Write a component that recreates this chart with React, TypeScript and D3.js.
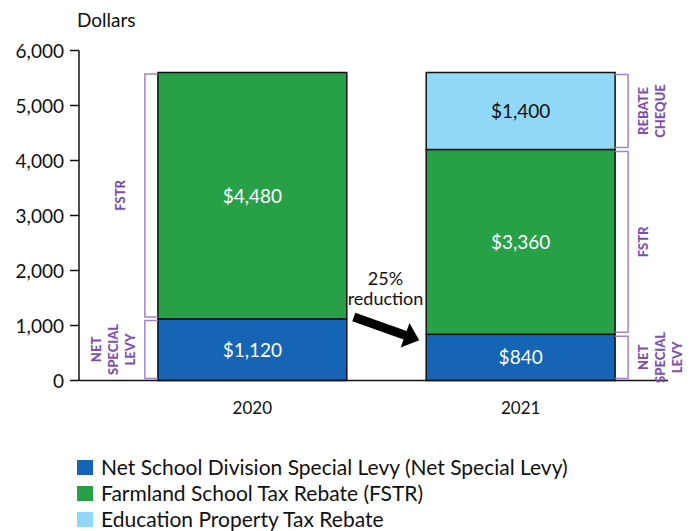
import React from "react";
import * as d3 from "d3";

const years = ["2020", "2021"];
const seriesKeys = ["levy", "fstr", "rebate"];
const seriesNames = [
  "Net School Division Special Levy (Net Special Levy)",
  "Farmland School Tax Rebate (FSTR)",
  "Education Property Tax Rebate",
];
const seriesColors = ["#1565b4", "#27a047", "#8fd8f7"];
const valueTextColors = ["#ffffff", "#ffffff", "#111111"];
const levyValues = [1120, 840];
const fstrValues = [4480, 3360];
const rebateValues = [0, 1400];
const yTicks = [0, 1000, 2000, 3000, 4000, 5000, 6000];
const leftBrackets = [
  { key: "levy", lines: ["NET", "SPECIAL", "LEVY"] },
  { key: "fstr", lines: ["FSTR"] },
];
const rightBrackets = [
  { key: "levy", lines: ["NET", "SPECIAL", "LEVY"] },
  { key: "fstr", lines: ["FSTR"] },
  { key: "rebate", lines: ["REBATE", "CHEQUE"] },
];
const annotationLines = ["25%", "reduction"];

const FONT = "Lato, 'Noto Sans', sans-serif";
const PURPLE_TEXT = "#7d4fb3";
const PURPLE_LINE = "#9f84cc";

export default function App() {
  const width = 692;
  const height = 531;
  const axisX = 79;
  const axisEnd = 668;
  const y = d3.scaleLinear().domain([0, 6000]).range([380.5, 50.5]);
  const x = d3
    .scaleBand<string>()
    .domain(years)
    .range([79, 694])
    .paddingInner(0.296)
    .paddingOuter(0.294);

  const rows = years.map((yr, i) => ({
    year: yr,
    levy: levyValues[i],
    fstr: fstrValues[i],
    rebate: rebateValues[i],
  }));
  const stacked = d3.stack<any>().keys(seriesKeys)(rows);

  const seg = (key: string, i: number) => {
    const s = stacked[seriesKeys.indexOf(key)][i];
    return { y0: y(s[0]), y1: y(s[1]), v: s[1] - s[0] };
  };

  const bw = x.bandwidth();
  const x2020 = x("2020")!;
  const x2021 = x("2021")!;

  // arrow geometry derived from bars
  const aStart: [number, number] = [x2020 + bw + 7, seg("levy", 0).y1 - 2];
  const aTip: [number, number] = [x2021 - 7, seg("levy", 1).y1 + 6];
  const dx = aTip[0] - aStart[0];
  const dy = aTip[1] - aStart[1];
  const len = Math.hypot(dx, dy);
  const ux = dx / len, uy = dy / len;
  const nx = -uy, ny = ux;
  const sw = 4.5, hw = 13, hl = 15;
  const hb: [number, number] = [aTip[0] - ux * hl, aTip[1] - uy * hl];
  const pts: [number, number][] = [
    [aStart[0] + nx * sw, aStart[1] + ny * sw],
    [hb[0] + nx * sw, hb[1] + ny * sw],
    [hb[0] + nx * hw, hb[1] + ny * hw],
    aTip,
    [hb[0] - nx * hw, hb[1] - ny * hw],
    [hb[0] - nx * sw, hb[1] - ny * sw],
    [aStart[0] - nx * sw, aStart[1] - ny * sw],
  ];

  const midX = (x2020 + bw + x2021) / 2;

  return (
    <svg width={width} height={height} style={{ position: "absolute", left: 0, top: 0, background: "#fff" }}>
      {/* bars */}
      {years.map((yr, i) =>
        seriesKeys.map((k, si) => {
          const s = seg(k, i);
          if (s.v <= 0) return null;
          return (
            <g key={yr + k}>
              <rect
                x={x(yr)}
                y={s.y1}
                width={bw}
                height={s.y0 - s.y1}
                fill={seriesColors[si]}
                stroke="#111"
                strokeWidth={1.5}
              />
              <text
                x={x(yr)! + bw / 2}
                y={(s.y0 + s.y1) / 2 + 7}
                textAnchor="middle"
                fontFamily={FONT}
                fontSize={19}
                fill={valueTextColors[si]}
              >
                {"$" + d3.format(",")(s.v)}
              </text>
            </g>
          );
        })
      )}

      {/* axes */}
      <line x1={axisX} x2={axisX} y1={y(6000)} y2={y(0)} stroke="#111" strokeWidth={1.5} />
      <line x1={axisX} x2={axisEnd} y1={y(0)} y2={y(0)} stroke="#111" strokeWidth={1.5} />
      {yTicks.map((t) => (
        <g key={t}>
          <line x1={axisX - 9} x2={axisX} y1={y(t)} y2={y(t)} stroke="#111" strokeWidth={1.5} />
          <text x={64} y={y(t) + 7} textAnchor="end" fontFamily={FONT} fontSize={19} fill="#111">
            {d3.format(",")(t)}
          </text>
        </g>
      ))}
      <text x={77} y={27} fontFamily={FONT} fontSize={19} fill="#111">
        Dollars
      </text>
      {years.map((yr) => (
        <text key={yr} x={x(yr)! + bw / 2} y={414} textAnchor="middle" fontFamily={FONT} fontSize={17} fill="#111">
          {yr}
        </text>
      ))}

      {/* left brackets (2020) */}
      {leftBrackets.map((b) => {
        const s = seg(b.key, 0);
        const bx = x2020 - 13;
        const top = s.y1 + 1.5;
        const bot = s.y0 - 2;
        const cy = (top + bot) / 2;
        const baseX = b.lines.length === 1 ? 125 : 101;
        return (
          <g key={"l" + b.key}>
            <path
              d={`M${x2020},${top}H${bx}V${bot}H${x2020}`}
              fill="none"
              stroke={PURPLE_LINE}
              strokeWidth={1.5}
            />
            <text
              transform={`translate(${baseX},${cy}) rotate(-90)`}
              textAnchor="middle"
              fontFamily={FONT}
              fontWeight="900"
              fontSize={13}
              fill={PURPLE_TEXT}
            >
              {b.lines.map((l, li) => (
                <tspan key={li} x={0} dy={li === 0 ? 0 : 17}>
                  {l}
                </tspan>
              ))}
            </text>
          </g>
        );
      })}

      {/* right brackets (2021) */}
      {rightBrackets.map((b) => {
        const s = seg(b.key, 1);
        const xr = x2021 + bw;
        const bx = xr + 13;
        const top = s.y1 + 2;
        const bot = s.y0 - 2;
        const cy = (top + bot) / 2;
        return (
          <g key={"r" + b.key}>
            <path
              d={`M${xr},${top}H${bx}V${bot}H${xr}`}
              fill="none"
              stroke={PURPLE_LINE}
              strokeWidth={1.5}
            />
            <text
              transform={`translate(${648},${cy}) rotate(-90)`}
              textAnchor="middle"
              fontFamily={FONT}
              fontWeight="900"
              fontSize={13}
              fill={PURPLE_TEXT}
            >
              {b.lines.map((l, li) => (
                <tspan key={li} x={0} dy={li === 0 ? 0 : 17}>
                  {l}
                </tspan>
              ))}
            </text>
          </g>
        );
      })}

      {/* annotation */}
      <text textAnchor="middle" fontFamily={FONT} fontSize={18} fill="#111">
        {annotationLines.map((l, li) => (
          <tspan key={li} x={midX - 1} y={285 + li * 20}>
            {l}
          </tspan>
        ))}
      </text>
      <polygon points={pts.map((p) => p.join(",")).join(" ")} fill="#000" />

      {/* legend */}
      {seriesNames.map((n, i) => (
        <g key={n} transform={`translate(77,${460 + i * 26})`}>
          <rect x={0} y={0} width={16} height={15} fill={seriesColors[i]} />
          <text x={24} y={15} fontFamily={FONT} fontSize={21} fill="#111">
            {n}
          </text>
        </g>
      ))}
    </svg>
  );
}
